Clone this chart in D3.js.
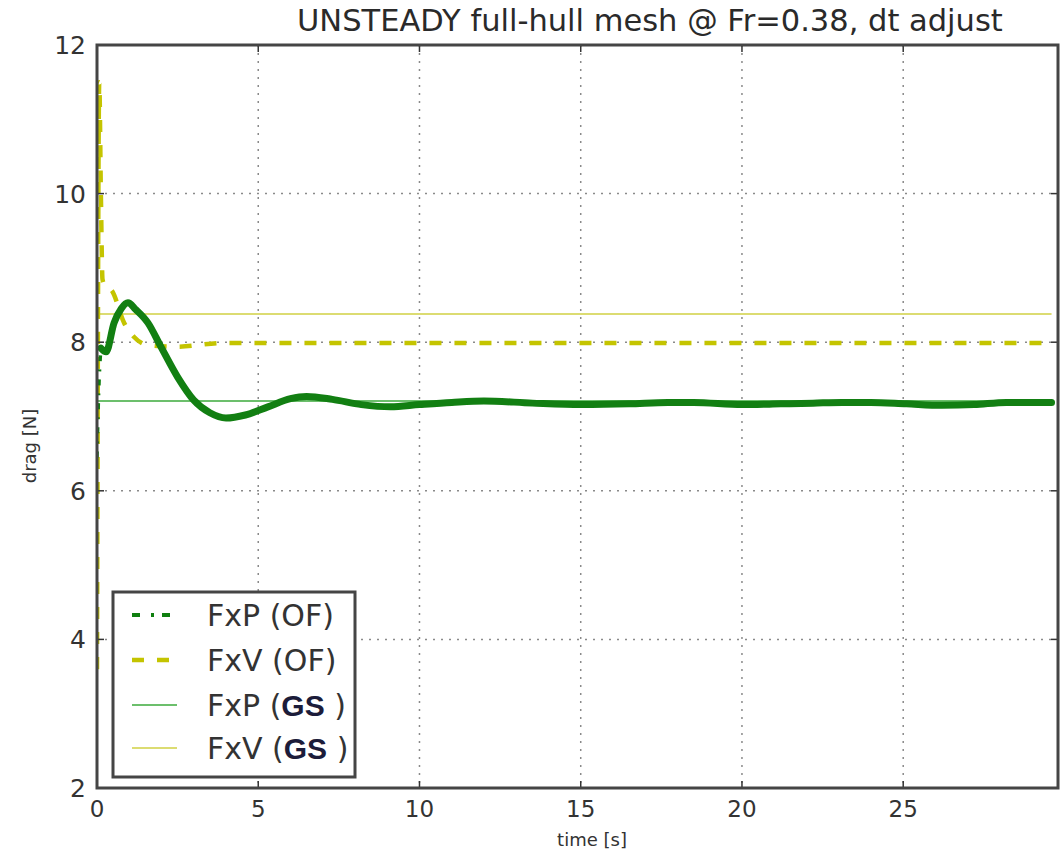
<!DOCTYPE html>
<html>
<head>
<meta charset="utf-8">
<script src="https://cdn.jsdelivr.net/npm/d3@7/dist/d3.min.js"></script>
<style>
  html, body { margin: 0; padding: 0; background: #fff; }
  svg { display: block; font-family: "DejaVu Sans", sans-serif; }
</style>
</head>
<body>
<svg id="chart" width="1063" height="853"></svg>
<script>
// Time axis ticks and drag axis ticks
const xTicks = [0, 5, 10, 15, 20, 25];
const yTicks = [2, 4, 6, 8, 10, 12];

// FxP (OF): pressure drag history
const fxpTime  = [0, 0.05, 0.12, 0.28, 0.53, 0.75, 0.96, 1.2, 1.58, 1.98, 2.5, 3.0, 3.5, 4.0, 4.6, 5.3, 6.0, 6.5, 7.3, 8.2, 9.1, 10.0, 11.0, 12.0, 13.5, 15.0, 16.5, 17.7, 18.5, 20.0, 21.2, 22.2, 23.1, 24.0, 25.1, 26.2, 27.2, 28.2, 29.6];
const fxpValue = [6.45, 7.3, 7.92, 7.87, 8.26, 8.45, 8.53, 8.44, 8.26, 7.94, 7.53, 7.22, 7.05, 6.98, 7.02, 7.13, 7.24, 7.27, 7.23, 7.16, 7.13, 7.16, 7.19, 7.21, 7.18, 7.16, 7.17, 7.19, 7.19, 7.16, 7.17, 7.18, 7.19, 7.19, 7.17, 7.15, 7.16, 7.19, 7.19];

// FxV (OF): viscous drag history
const fxvTime  = [0, 0.07, 0.12, 0.17, 0.25, 0.45, 0.84, 1.15, 1.58, 2.5, 3.9, 29.6];
const fxvValue = [3.6, 11.5, 10.0, 8.85, 8.75, 8.70, 8.26, 8.07, 7.96, 7.94, 7.99, 7.99];

// Reference values (GS)
const fxpGS = 7.21;
const fxvGS = 8.38;
const gsEnd = 29.6;

const legendLabels = ["FxP (OF)", "FxV (OF)", "FxP (", "FxV ("];

const plot = { left: 97, right: 1058, top: 45, bottom: 788 };

const svg = d3.select("#chart");
const x = d3.scaleLinear().domain([0, 29.8]).range([plot.left, plot.right]);
const y = d3.scaleLinear().domain([2, 12]).range([plot.bottom, plot.top]);

const clipId = "plotclip";
svg.append("defs").append("clipPath").attr("id", clipId)
  .append("rect").attr("x", plot.left).attr("y", plot.top)
  .attr("width", plot.right - plot.left).attr("height", plot.bottom - plot.top);

// grid
const grid = svg.append("g");
grid.selectAll(".gx").data(xTicks).join("line")
  .attr("x1", d => x(d)).attr("x2", d => x(d))
  .attr("y1", plot.top).attr("y2", plot.bottom)
  .attr("stroke", "#8a8a8a").attr("stroke-width", 1.5).attr("stroke-dasharray", "2,6");
grid.selectAll(".gy").data(yTicks).join("line")
  .attr("x1", plot.left).attr("x2", plot.right)
  .attr("y1", d => y(d)).attr("y2", d => y(d))
  .attr("stroke", "#8a8a8a").attr("stroke-width", 1.5).attr("stroke-dasharray", "2,6");

const marks = svg.append("g").attr("clip-path", `url(#${clipId})`);

// GS reference lines
marks.append("line")
  .attr("x1", x(0)).attr("x2", x(gsEnd)).attr("y1", y(fxvGS)).attr("y2", y(fxvGS))
  .attr("stroke", "#dcdc72").attr("stroke-width", 2);
marks.append("line")
  .attr("x1", x(0)).attr("x2", x(gsEnd)).attr("y1", y(fxpGS)).attr("y2", y(fxpGS))
  .attr("stroke", "#6cbf6c").attr("stroke-width", 2);

// FxV (OF)
const fxvData = fxvTime.map((t, i) => [t, fxvValue[i]]);
const lineV = d3.line().x(d => x(d[0])).y(d => y(d[1])).curve(d3.curveMonotoneX);
marks.append("path").datum(fxvData)
  .attr("d", lineV).attr("fill", "none")
  .attr("stroke", "#c4c400").attr("stroke-width", 4.5)
  .attr("stroke-dasharray", "12,13");

// FxP (OF)
const fxpData = fxpTime.map((t, i) => [t, fxpValue[i]]);
const lineP = d3.line().x(d => x(d[0])).y(d => y(d[1])).curve(d3.curveMonotoneX);
marks.append("path").datum(fxpData.filter(d => d[0] <= 0.12))
  .attr("d", lineP).attr("fill", "none")
  .attr("stroke", "#0f7f0f").attr("stroke-width", 3.5)
  .attr("stroke-dasharray", "6,8,2,8");
marks.append("path").datum(fxpData.filter(d => d[0] >= 0.12))
  .attr("d", lineP).attr("fill", "none")
  .attr("stroke", "#127f12").attr("stroke-width", 7)
  .attr("stroke-linejoin", "round").attr("stroke-linecap", "round");

// inward ticks on all sides
const tk = svg.append("g").attr("stroke", "#333").attr("stroke-width", 1.5);
xTicks.forEach(d => {
  tk.append("line").attr("x1", x(d)).attr("x2", x(d)).attr("y1", plot.bottom).attr("y2", plot.bottom - 7);
  tk.append("line").attr("x1", x(d)).attr("x2", x(d)).attr("y1", plot.top).attr("y2", plot.top + 7);
});
yTicks.forEach(d => {
  tk.append("line").attr("x1", plot.left).attr("x2", plot.left + 7).attr("y1", y(d)).attr("y2", y(d));
  tk.append("line").attr("x1", plot.right).attr("x2", plot.right - 7).attr("y1", y(d)).attr("y2", y(d));
});

// frame
svg.append("rect")
  .attr("x", plot.left).attr("y", plot.top)
  .attr("width", plot.right - plot.left).attr("height", plot.bottom - plot.top)
  .attr("fill", "none").attr("stroke", "#454545").attr("stroke-width", 3);

// tick labels
svg.append("g").selectAll("text").data(xTicks).join("text")
  .attr("x", d => x(d)).attr("y", 817)
  .attr("text-anchor", "middle").attr("font-size", 23).attr("fill", "#333")
  .text(d => d);
svg.append("g").selectAll("text").data(yTicks).join("text")
  .attr("x", 86).attr("y", d => y(d)).attr("dy", "0.36em")
  .attr("text-anchor", "end").attr("font-size", 25).attr("fill", "#333")
  .text(d => d);

// axis labels
svg.append("text")
  .attr("x", 592).attr("y", 846).attr("text-anchor", "middle")
  .attr("font-size", 18).attr("fill", "#333").text("time [s]");
svg.append("text")
  .attr("transform", "translate(36,446) rotate(-90)").attr("text-anchor", "middle")
  .attr("font-size", 18).attr("fill", "#333").text("drag [N]");

// title
const title = svg.append("text")
  .attr("x", 297).attr("y", 31).attr("font-size", 25).attr("fill", "#2a2a2a")
  .text("UNSTEADY full-hull mesh @ Fr=0.38, dt adjust");
const tw = title.node().getComputedTextLength();
title.attr("font-size", 25 * 706 / tw);

// legend
const lg = svg.append("g");
lg.append("rect").attr("x", 113).attr("y", 592).attr("width", 242).attr("height", 185)
  .attr("fill", "#fff").attr("stroke", "#454545").attr("stroke-width", 3);
const rows = [615, 660, 705, 748];
const styles = [
  { stroke: "#0f7f0f", width: 4, dash: "8,11,3,8" },
  { stroke: "#c4c400", width: 4.5, dash: "12,13" },
  { stroke: "#6cbf6c", width: 2, dash: null },
  { stroke: "#dcdc72", width: 2, dash: null }
];
rows.forEach((ry, i) => {
  const s = styles[i];
  const l = lg.append("line").attr("x1", 132).attr("x2", 177).attr("y1", ry).attr("y2", ry)
    .attr("stroke", s.stroke).attr("stroke-width", s.width);
  if (s.dash) l.attr("stroke-dasharray", s.dash);
  const t = lg.append("text").attr("x", 207).attr("y", ry).attr("dy", "0.36em")
    .attr("font-size", 30).attr("fill", "#333");
  t.append("tspan").text(legendLabels[i]);
  if (i >= 2) {
    t.append("tspan").attr("font-weight", "bold").attr("fill", "#1c1c3a")
      .attr("font-family", "Liberation Sans, Arial, sans-serif").text("GS");
    t.append("tspan").text(" )");
  }
});
</script>
</body>
</html>
